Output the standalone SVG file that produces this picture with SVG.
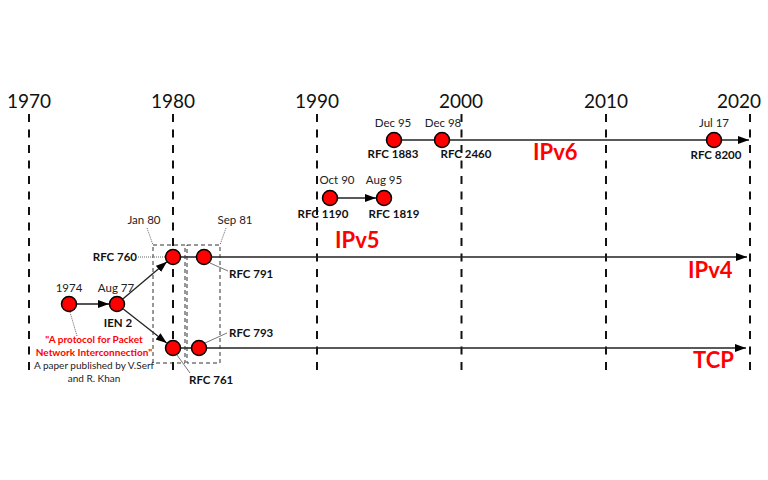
<svg xmlns="http://www.w3.org/2000/svg" width="768" height="480" viewBox="0 0 768 480">
<defs>
<marker id="ah" markerUnits="userSpaceOnUse" markerWidth="12" markerHeight="9" refX="11" refY="4" orient="auto">
<path d="M0,0 L11,4 L0,8 z" fill="#000"/>
</marker>
<style>
.yr{font-family:Lato,"Liberation Sans",sans-serif;font-size:19px;fill:#111;text-anchor:middle}
.grid{stroke:#111;stroke-width:2;stroke-dasharray:8 7.5}
.lbl{font-family:Lato,"Liberation Sans",sans-serif;font-size:11.5px;fill:#222}
.rfc{font-family:Lato,"Liberation Sans",sans-serif;font-size:11.5px;font-weight:bold;fill:#111}
.big{font-family:Lato,"Liberation Sans",sans-serif;font-size:22px;font-weight:bold;fill:#f00}
.mid{text-anchor:middle}
.end{text-anchor:end}
.ev{fill:#f00;stroke:#000;stroke-width:1.5}
.ln{stroke:#222;stroke-width:1.3;fill:none}
.box{stroke:#333;stroke-width:1;stroke-dasharray:4 3;fill:none}
.lead{stroke:#555;stroke-width:0.8;fill:none}
.dot{stroke:#555;stroke-width:0.9;stroke-dasharray:1 1;fill:none}
.paper{font-family:Lato,"Liberation Sans",sans-serif;font-size:10px;text-anchor:middle}
</style>
</defs>
<rect width="768" height="480" fill="#fff"/>
<g id="years">
<text class="yr" x="29" y="108">1970</text>
<text class="yr" x="173" y="108">1980</text>
<text class="yr" x="317" y="108">1990</text>
<text class="yr" x="461" y="108">2000</text>
<text class="yr" x="606" y="108">2010</text>
<text class="yr" x="739" y="108">2020</text>
<line class="grid" x1="29" y1="114" x2="29" y2="370"/>
<line class="grid" x1="173" y1="114" x2="173" y2="370"/>
<line class="grid" x1="317" y1="114" x2="317" y2="370"/>
<line class="grid" x1="461.5" y1="114" x2="461.5" y2="370"/>
<line class="grid" x1="606" y1="114" x2="606" y2="370"/>
<line class="grid" x1="750" y1="114" x2="750" y2="370"/>
</g>
<g id="connectors">
<line x1="77" y1="304" x2="109" y2="304" stroke="#555" stroke-width="2" marker-end="url(#ah)"/>
<line class="ln" x1="123.1" y1="298.8" x2="166.9" y2="261.8" marker-end="url(#ah)"/>
<line class="ln" x1="123.3" y1="308.9" x2="166.7" y2="343.1" marker-end="url(#ah)"/>
<line class="ln" x1="173" y1="257" x2="747" y2="257" marker-end="url(#ah)"/>
<line class="ln" x1="173" y1="348" x2="746" y2="348" marker-end="url(#ah)"/>
<line class="ln" x1="394" y1="140" x2="749" y2="140" marker-end="url(#ah)"/>
<line class="ln" x1="338" y1="198" x2="376" y2="198" marker-end="url(#ah)"/>
<rect class="box" x="153" y="245" width="32" height="118"/>
<rect class="box" x="187" y="245" width="33" height="118"/>
<line class="dot" x1="147" y1="228" x2="153" y2="245"/>
<line class="dot" x1="226" y1="228" x2="220" y2="245"/>
<line class="dot" x1="138" y1="257" x2="165" y2="257"/>
<line class="lead" x1="210" y1="263" x2="228" y2="271"/>
<line class="lead" x1="205" y1="343" x2="227" y2="333"/>
<line class="lead" x1="177" y1="355" x2="190" y2="373"/>
<line class="dot" x1="70" y1="312" x2="77" y2="336"/>
</g>
<g id="n1974">
<circle class="ev" cx="69" cy="304" r="7.5"/>
<text class="lbl mid" x="69" y="292">1974</text>
<text class="paper" x="94" y="343" fill="#f00" font-weight="bold">"A protocol for Packet</text>
<text class="paper" x="94" y="356" fill="#f00" font-weight="bold">Network Interconnection"</text>
<text class="paper" x="94" y="369" fill="#222">A paper published by V.Serf</text>
<text class="paper" x="94" y="382" fill="#222">and R. Khan</text>
</g>
<g id="ien2">
<circle class="ev" cx="117" cy="304" r="7.5"/>
<text class="lbl mid" x="116" y="292">Aug 77</text>
<text class="rfc mid" x="118" y="327" font-size="12.5">IEN 2</text>
</g>
<g id="rfc760">
<circle class="ev" cx="173" cy="257" r="7.5"/>
<text class="lbl mid" x="144" y="224">Jan 80</text>
<text class="rfc end" x="137" y="261">RFC 760</text>
</g>
<g id="rfc791">
<circle class="ev" cx="204" cy="257" r="7.5"/>
<text class="lbl mid" x="235" y="224">Sep 81</text>
<text class="rfc" x="229" y="278">RFC 791</text>
</g>
<g id="rfc761">
<circle class="ev" cx="173" cy="348" r="7.5"/>
<text class="rfc" x="189" y="384">RFC 761</text>
</g>
<g id="rfc793">
<circle class="ev" cx="199" cy="348" r="7.5"/>
<text class="rfc" x="229" y="337">RFC 793</text>
</g>
<g id="rfc1190">
<circle class="ev" cx="330" cy="198" r="7.5"/>
<text class="lbl mid" x="337" y="184">Oct 90</text>
<text class="rfc mid" x="323" y="218">RFC 1190</text>
</g>
<g id="rfc1819">
<circle class="ev" cx="384" cy="198" r="7.5"/>
<text class="lbl mid" x="384" y="184">Aug 95</text>
<text class="rfc mid" x="394" y="218">RFC 1819</text>
</g>
<g id="rfc1883">
<circle class="ev" cx="394" cy="140" r="7.5"/>
<text class="lbl mid" x="393" y="127">Dec 95</text>
<text class="rfc mid" x="393" y="158">RFC 1883</text>
</g>
<g id="rfc2460">
<circle class="ev" cx="442" cy="140" r="7.5"/>
<text class="lbl mid" x="443" y="127">Dec 98</text>
<text class="rfc mid" x="466" y="158">RFC 2460</text>
</g>
<g id="rfc8200">
<circle class="ev" cx="714" cy="140" r="7.5"/>
<text class="lbl mid" x="714" y="127">Jul 17</text>
<text class="rfc mid" x="716" y="159">RFC 8200</text>
</g>
<g id="labels">
<text class="big" x="533" y="160">IPv6</text>
<text class="big" x="335" y="248">IPv5</text>
<text class="big" x="688" y="278">IPv4</text>
<text class="big" x="693" y="368">TCP</text>
</g>
</svg>
